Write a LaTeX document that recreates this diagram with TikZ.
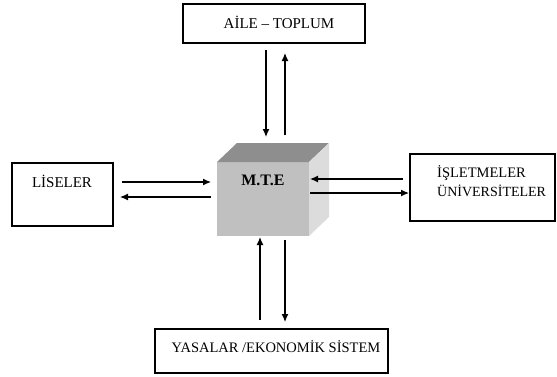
\documentclass[tikz,border=0pt]{standalone}
\usepackage{fontspec}
\setmainfont{Liberation Serif}
\usetikzlibrary{arrows.meta}
\definecolor{cubetop}{HTML}{8E8E8E}
\definecolor{cubefront}{HTML}{C0C0C0}
\definecolor{cubeside}{HTML}{DCDCDC}
\begin{document}
\begin{tikzpicture}[x=1pt,y=-1pt,
  boxx/.style={draw=black,line width=2.6pt,rectangle,inner sep=0pt},
  lbl/.style={inner sep=0pt,font=\fontsize{15}{18}\selectfont},
  arr/.style={line width=1.2pt,-{Latex[length=8pt,width=7pt]}}]
\useasboundingbox (0,0) rectangle (557,376);
% boxes
\node[boxx,minimum width=182pt,minimum height=39pt] (aile) at (274,23.5) {};
\node[lbl] (ailet) at (279,22) {AİLE – TOPLUM};
\node[boxx,minimum width=101pt,minimum height=63pt] (lise) at (62.5,194.5) {};
\node[lbl] (liset) at (62,181) {LİSELER};
\node[boxx,minimum width=145pt,minimum height=67pt] (isl) at (482.5,187.5) {};
\node[lbl,anchor=west,font=\fontsize{14.5}{17}\selectfont] (islt1) at (437,173) {İŞLETMELER};
\node[lbl,anchor=west,font=\fontsize{14}{17}\selectfont] (islt2) at (437,191) {ÜNİVERSİTELER};
\node[boxx,minimum width=233pt,minimum height=44pt] (yas) at (271.5,351) {};
\node[lbl,font=\fontsize{14.5}{17}\selectfont] (yast) at (276,347) {YASALAR /EKONOMİK SİSTEM};
% cube
\fill[cubefront] (217,162) rectangle (309,236);
\fill[cubetop] (217,162) -- (237,143) -- (329,143) -- (309,162) -- cycle;
\fill[cubeside] (309,162) -- (329,143) -- (329,217) -- (309,236) -- cycle;
\node[inner sep=0pt,minimum width=92pt,minimum height=74pt] (mte) at (263,199) {};
\node[inner sep=0pt,font=\fontsize{16}{19}\selectfont\bfseries] (mtet) at (263,180) {M.T.E};
% connector end points
\coordinate (t1s) at (266,50);  \coordinate (t1e) at (266,137);
\coordinate (t2s) at (285,135); \coordinate (t2e) at (285,53);
\coordinate (l1s) at (122,182); \coordinate (l1e) at (211,182);
\coordinate (l2s) at (211,197); \coordinate (l2e) at (120,197);
\coordinate (r1s) at (403,179); \coordinate (r1e) at (310,179);
\coordinate (r2s) at (310,193); \coordinate (r2e) at (409,193);
\coordinate (b1s) at (260,320); \coordinate (b1e) at (260,237);
\coordinate (b2s) at (285,240); \coordinate (b2e) at (285,322);
\draw[arr] (t1s) -- (t1e);
\draw[arr] (t2s) -- (t2e);
\draw[arr] (l1s) -- (l1e);
\draw[arr] (l2s) -- (l2e);
\draw[arr] (r1s) -- (r1e);
\draw[arr] (r2s) -- (r2e);
\draw[arr] (b1s) -- (b1e);
\draw[arr] (b2s) -- (b2e);
\end{tikzpicture}
\end{document}
